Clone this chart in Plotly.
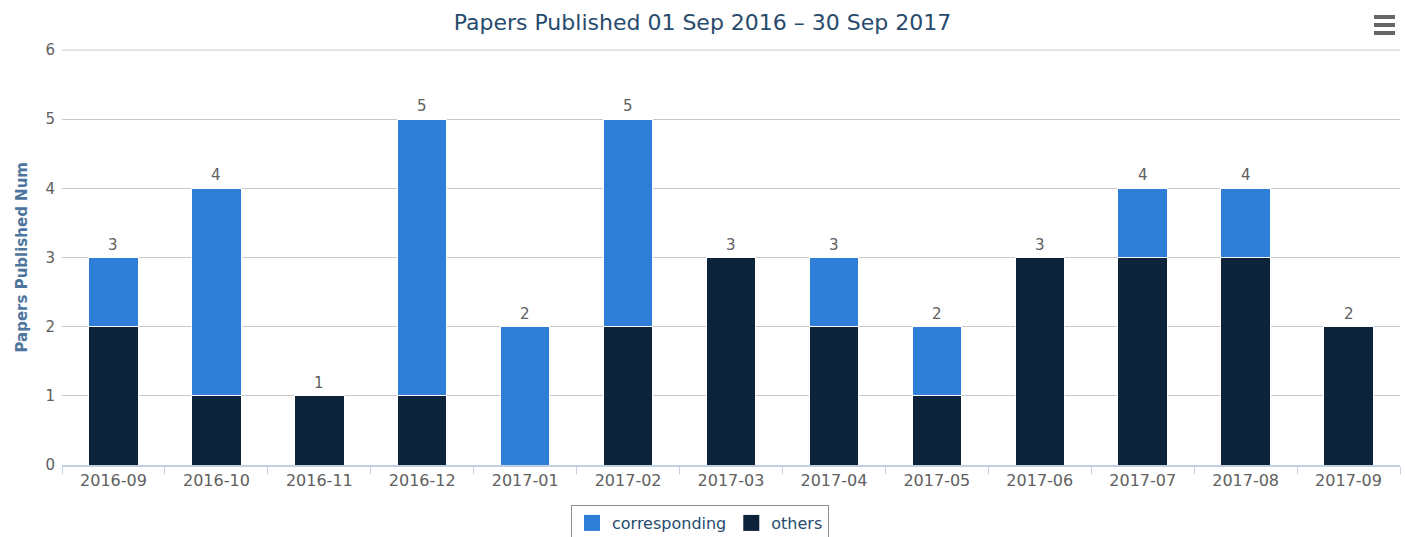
import plotly.graph_objects as go

months = ["2016-09", "2016-10", "2016-11", "2016-12", "2017-01", "2017-02", "2017-03",
          "2017-04", "2017-05", "2017-06", "2017-07", "2017-08", "2017-09"]
corresponding = [1, 3, 0, 4, 2, 3, 0, 1, 1, 0, 1, 1, 0]
others = [2, 1, 1, 1, 0, 2, 3, 2, 1, 3, 3, 3, 2]
totals = [c + o for c, o in zip(corresponding, others)]

FONT = "DejaVu Sans"
L, R, T, B = 62, 5, 50, 72
W, H = 1405, 537
PW, PH = W - L - R, H - T - B
C_CORR, C_OTH = "#2f7ed8", "#0d233a"

fig = go.Figure()
fig.add_trace(go.Bar(x=months, y=others, name="others", legendgroup="o", showlegend=False,
                     marker=dict(color=C_OTH, line=dict(color="white", width=1))))
fig.add_trace(go.Bar(x=months, y=corresponding, name="corresponding", legendgroup="c", showlegend=False,
                     marker=dict(color=C_CORR, line=dict(color="white", width=1))))
# legend entries with larger square swatches
fig.add_trace(go.Scatter(x=[None], y=[None], mode="markers", name="corresponding", legendgroup="c",
                         marker=dict(symbol="square", size=16, color=C_CORR), legendrank=1))
fig.add_trace(go.Scatter(x=[None], y=[None], mode="markers", name="others", legendgroup="o",
                         marker=dict(symbol="square", size=16, color=C_OTH), legendrank=2))

for m, t in zip(months, totals):
    fig.add_annotation(x=m, y=t, text=str(t), showarrow=False, yanchor="middle", yshift=13,
                       font=dict(family=FONT, size=15, color="#606060"))

fig.update_layout(
    width=W, height=H,
    barmode="stack", bargap=0.52,
    paper_bgcolor="white", plot_bgcolor="white",
    margin=dict(l=L, r=R, t=T, b=B, autoexpand=False),
    font=dict(family=FONT, size=15, color="#606060"),
    title=dict(text="Papers Published 01 Sep 2016 – 30 Sep 2017", x=0.5, xanchor="center",
               y=1 - 22 / H, yanchor="middle", font=dict(family=FONT, size=22, color="#274b6d")),
    legend=dict(orientation="h", x=(700 - L) / PW, xanchor="center", y=-40 / PH, yanchor="top",
                bordercolor="#909090", borderwidth=1, font=dict(family=FONT, size=16, color="#274b6d"),
                traceorder="normal", itemsizing="trace"),
    xaxis=dict(type="category", showgrid=False, showline=True, linecolor="#C0D0E0", linewidth=2,
               ticks="outside", tickson="boundaries", ticklen=7, tickcolor="#C0D0E0", tickwidth=1,
               automargin=False,
               tickfont=dict(family=FONT, size=16, color="#606060")),
    yaxis=dict(range=[0, 6], dtick=1, showgrid=True, gridcolor="#C8C8C8", gridwidth=1,
               zeroline=False, showline=False, ticks="", automargin=False, ticklabelstandoff=6,
               tickfont=dict(family=FONT, size=15, color="#606060")),
)

# gridline at the top of the range (6)
fig.add_shape(type="line", xref="paper", yref="paper", x0=0, x1=1, y0=1, y1=1,
              line=dict(color="#C8C8C8", width=1), layer="below")

fig.add_annotation(text="<b>Papers Published Num</b>", xref="paper", yref="paper", x=0, y=0.5,
                   xanchor="center", yanchor="middle", xshift=-41, textangle=-90, showarrow=False,
                   font=dict(family=FONT, size=15, color="#4d759e"))

for yy in [17, 25, 33]:
    fig.add_shape(type="line", xref="paper", yref="paper",
                  x0=(1374 - L) / PW, x1=(1395 - L) / PW,
                  y0=(H - B - yy) / PH, y1=(H - B - yy) / PH,
                  line=dict(color="#666666", width=4))

fig.write_html("out.html", config={"displayModeBar": False},
               post_script="document.body.style.margin='0';")
